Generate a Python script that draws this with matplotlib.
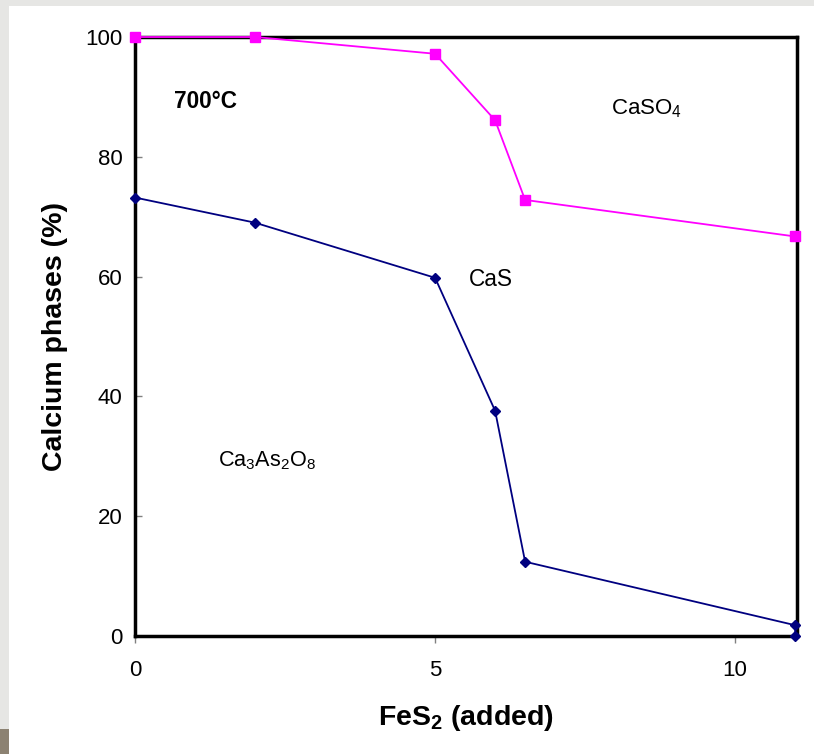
import matplotlib
matplotlib.use("Agg")
import matplotlib.pyplot as plt
from matplotlib.patches import Rectangle

plt.rcParams['font.family'] = ['Liberation Sans', 'DejaVu Sans']

fes2_caso4 = [0, 2, 5, 6, 6.5, 11]
caso4 = [100, 100, 97.2, 86.1, 72.8, 66.7]
fes2_cas = [0, 2, 5, 6, 6.5, 11, 11]
cas = [73.2, 69.0, 59.8, 37.6, 12.4, 1.8, 0.0]
xticks = [0, 5, 10]
yticks = [0, 20, 40, 60, 80, 100]

fig = plt.figure(figsize=(8.14, 7.54), dpi=100)
fig.patch.set_facecolor('white')
fig.patches.append(Rectangle((0, 0), 1, 1, transform=fig.transFigure,
                             facecolor='#e6e6e4', edgecolor='none', zorder=-10))
fig.patches.append(Rectangle((9/814, 0), 1, 1 - 6/754, transform=fig.transFigure,
                             facecolor='white', edgecolor='none', zorder=-9))
fig.patches.append(Rectangle((0, 0), 9/814, 25/754, transform=fig.transFigure,
                             facecolor='#8c8272', edgecolor='none', zorder=-8))

ax = fig.add_axes([135/814, 1 - 636/754, (797 - 135)/814, (636 - 37)/754])
ax.set_facecolor('white')

ax.plot(fes2_caso4, caso4, color='#ff00ff', lw=1.3, marker='s', ms=7,
        mec='#ff00ff', mfc='#ff00ff', clip_on=False, zorder=5)
ax.plot(fes2_cas, cas, color='#000080', lw=1.3, marker='D', ms=5.5,
        mec='#000080', mfc='#000080', clip_on=False, zorder=5)

ax.set_xlim(0, 11.03)
ax.set_ylim(0, 100)
ax.set_xticks(xticks)
ax.set_yticks(yticks)
ax.tick_params(axis='x', direction='out', length=5, width=1, color='#808080',
               labelsize=16, pad=12)
ax.tick_params(axis='y', direction='in', length=5, width=1, color='#808080',
               labelsize=16, pad=9)
for s in ax.spines.values():
    s.set_linewidth(2.5)
    s.set_color('black')

ax.set_xlabel('FeS$_\\mathregular{2}$ (added)', fontsize=20.5, fontweight='bold', labelpad=16)
ax.set_ylabel('Calcium phases (%)', fontsize=20.5, fontweight='bold', labelpad=12.5)

ax.text(0.65, 89.2, '700°C', fontsize=16.3, fontweight='bold', ha='left', va='center')
ax.text(7.93, 88, 'CaSO$_\\mathregular{4}$', fontsize=16, ha='left', va='center')
ax.text(5.57, 59.5, 'CaS', fontsize=16.3, ha='left', va='center')
ax.text(1.38, 29.2, 'Ca$_\\mathregular{3}$As$_\\mathregular{2}$O$_\\mathregular{8}$',
        fontsize=15.6, ha='left', va='center')

fig.savefig('out.png', dpi=100)
